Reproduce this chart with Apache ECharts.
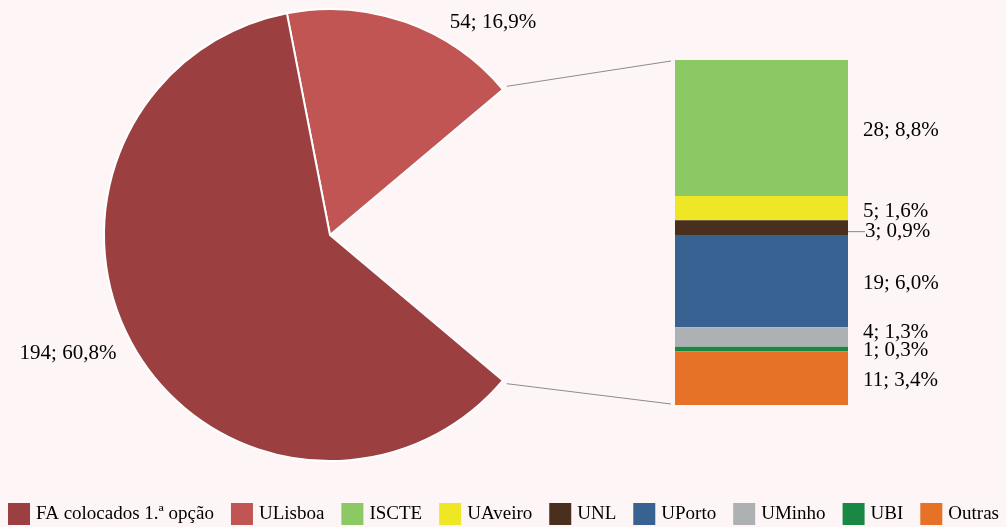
<!DOCTYPE html>
<html>
<head>
<meta charset="utf-8">
<script src="https://cdn.jsdelivr.net/npm/echarts@6/dist/echarts.min.js"></script>
<style>
  html, body { margin: 0; padding: 0; background: #fef6f6; }
  #chart { width: 1006px; height: 527px; }
</style>
</head>
<body>
<div id="chart"></div>
<script>
// fatias da tarte
const pieNames = ['FA colocados 1.ª opção', 'ULisboa'];
const pieValues = [194, 54];
const pieColors = ['#9b3f41', '#c05553'];

// barra (decomposição das restantes)
const barNames = ['ISCTE', 'UAveiro', 'UNL', 'UPorto', 'UMinho', 'UBI', 'Outras'];
const barValues = [28, 5, 3, 19, 4, 1, 11];
const barColors = ['#8cc863', '#efe625', '#4a2e1e', '#376292', '#aeb1b3', '#188844', '#e57226'];
const barLabelShift = [2, 3, 4, 2, -4, 1, 2]; // afastar rótulos sobrepostos

const barTotal = barValues.reduce((a, b) => a + b, 0);
const total = pieValues.reduce((a, b) => a + b, 0) + barTotal;

function pct(v) {
    return (v / total * 100).toFixed(1).replace('.', ',') + '%';
}

const FONT = 'Liberation Serif';
const pieCenter = [330, 235];
const pieRadius = 226;
const gridBox = {left: 675, top: 60, width: 173, height: 345};

// fatia escondida centrada nas 3 horas
const otherAngle = barTotal / total * 360;
const startAngle = otherAngle / 2 + pieValues[1] / total * 360;

let chart = echarts.init(document.getElementById('chart'));

let pieData = [
    {name: pieNames[1], value: pieValues[1], itemStyle: {color: pieColors[1]}},
    {name: '', value: barTotal, itemStyle: {color: 'rgba(0,0,0,0)', borderWidth: 0},
        label: {show: false}, emphasis: {disabled: true}, tooltip: {show: false}},
    {name: pieNames[0], value: pieValues[0], itemStyle: {color: pieColors[0]}}
];

let barSeries = barNames.map(function (name, i) {
    let s = {
        name: name,
        type: 'bar',
        stack: 'outras',
        barWidth: '100%',
        data: [barValues[i]],
        itemStyle: {color: barColors[i]},
        label: {
            show: true,
            position: 'right',
            distance: 15,
            offset: [0, barLabelShift[i]],
            color: '#000',
            fontFamily: FONT,
            fontSize: 21,
            formatter: function (p) {
                return p.value + '; ' + pct(p.value);
            }
        }
    };
    if (name === 'UNL') {
        s.label.distance = 17;
        s.labelLine = {show: true, lineStyle: {color: '#888', width: 1}};
    }
    return s;
});

let option = {
    backgroundColor: '#fef6f6',
    animation: false,
    legend: {
        data: pieNames.concat(barNames),
        left: 8,
        bottom: 2,
        padding: 0,
        width: 1000,
        icon: 'rect',
        itemWidth: 22,
        itemHeight: 22,
        itemGap: 17,
        itemStyle: {borderWidth: 0},
        textStyle: {fontFamily: FONT, fontSize: 19, color: '#000', padding: [0, 0, 0, 1]}
    },
    grid: {left: gridBox.left, top: gridBox.top, width: gridBox.width, height: gridBox.height},
    xAxis: {type: 'category', data: ['Outras'], show: false},
    yAxis: {type: 'value', min: 0, max: barTotal, inverse: true, show: false},
    series: [{
        type: 'pie',
        center: pieCenter,
        radius: pieRadius,
        startAngle: startAngle,
        clockwise: true,
        data: pieData,
        itemStyle: {borderColor: '#fff', borderWidth: 2},
        label: {
            show: true,
            position: 'outside',
            overflow: 'none',
            color: '#000',
            fontFamily: FONT,
            fontSize: 21,
            formatter: function (p) {
                return p.value + '; ' + pct(p.value);
            }
        },
        labelLine: {show: false},
        labelLayout: function (p) {
            if (p.dataIndex === 0) {
                return {x: 493, y: 22, align: 'center', verticalAlign: 'middle'};
            }
            if (p.dataIndex === 2) {
                return {x: 68, y: 353, align: 'center', verticalAlign: 'middle'};
            }
        }
    }].concat(barSeries)
};

chart.setOption(option);

// linhas de ligação entre a tarte e a barra
function piePoint(deg, extra) {
    let a = deg * Math.PI / 180;
    return [pieCenter[0] + (pieRadius + extra) * Math.cos(a), pieCenter[1] - (pieRadius + extra) * Math.sin(a)];
}
let yTop = chart.convertToPixel({yAxisIndex: 0}, 0);
let yBottom = chart.convertToPixel({yAxisIndex: 0}, barTotal);
let p1 = piePoint(otherAngle / 2, 5);
let p2 = piePoint(-otherAngle / 2, 5);
chart.setOption({
    graphic: [
        {type: 'line', shape: {x1: p1[0], y1: p1[1], x2: gridBox.left - 4, y2: yTop + 1},
            style: {stroke: '#8c8c8c', lineWidth: 1}},
        {type: 'line', shape: {x1: p2[0], y1: p2[1], x2: gridBox.left - 4, y2: yBottom - 1},
            style: {stroke: '#8c8c8c', lineWidth: 1}}
    ]
});
</script>
</body>
</html>
